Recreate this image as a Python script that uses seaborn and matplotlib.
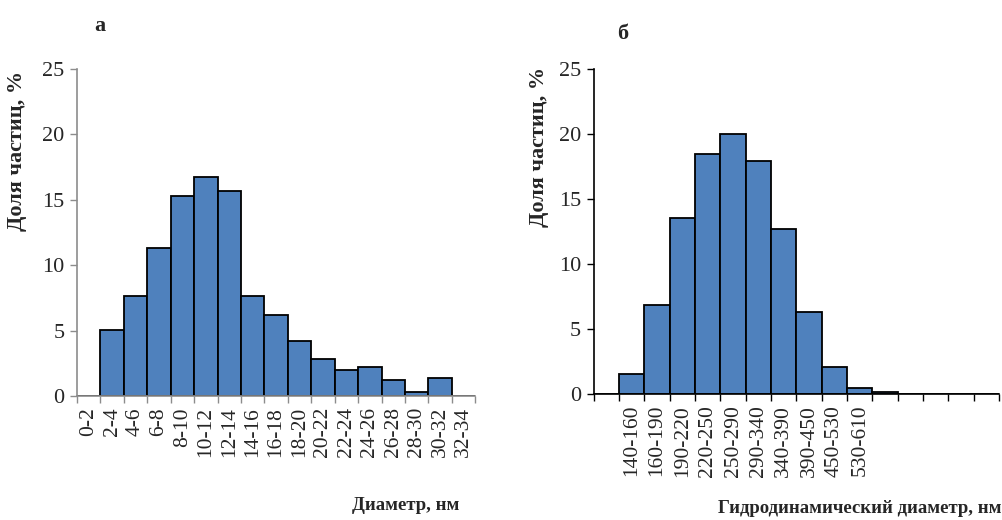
import numpy as np
import pandas as pd
import seaborn as sns
import matplotlib.pyplot as plt

# panel a: TEM size distribution
left_bins = ["0-2", "2-4", "4-6", "6-8", "8-10", "10-12", "12-14", "14-16", "16-18",
             "18-20", "20-22", "22-24", "24-26", "26-28", "28-30", "30-32", "32-34"]
left_values = [0, 5.05, 7.65, 11.35, 15.3, 16.75, 15.65, 7.65, 6.2,
               4.2, 2.85, 2.0, 2.25, 1.2, 0.3, 1.4, 0]

# panel b: DLS hydrodynamic size distribution (blank slots are unlabeled bins)
right_bins = ["", "140-160", "160-190", "190-220", "220-250", "250-290", "290-340",
              "340-390", "390-450", "450-530", "530-610", "", "", "", "", ""]
right_values = [0, 1.55, 6.8, 13.5, 18.45, 20.0, 17.95, 12.7, 6.3, 2.05, 0.45,
                0.12, 0, 0, 0, 0]

y_ticks = [0, 5, 10, 15, 20, 25]
bar_color = "#4F81BD"

sns.set_theme(style="white")
plt.rcParams["font.family"] = ["Liberation Serif", "DejaVu Serif"]

fig = plt.figure(figsize=(10.03, 5.2), dpi=100)
ax1 = fig.add_axes([0.0768, 0.2385, 0.397, 0.6288])
ax2 = fig.add_axes([0.592, 0.243, 0.404, 0.624])


def draw_panel(ax, labels, values, spine_color):
    df = pd.DataFrame({"pos": np.arange(len(values)), "val": values})
    sns.barplot(data=df, x="pos", y="val", color=bar_color, width=1.0,
                edgecolor="black", linewidth=1.3, saturation=1, ax=ax)
    n = len(values)
    ax.set_xlim(-0.5, n - 0.5)
    ax.set_ylim(0, 25)
    ax.set_yticks(y_ticks)
    ax.set_yticklabels([str(t) for t in y_ticks], fontsize=16)
    ax.set_xticks(np.arange(n))
    ax.set_xticklabels(labels, rotation=90, fontsize=15.5, va="top", ha="center")
    ax.set_xticks(np.arange(n + 1) - 0.5, minor=True)
    ax.tick_params(axis="x", which="major", length=0, pad=8)
    ax.tick_params(axis="x", which="minor", length=5, width=1, color=spine_color,
                   direction="out", bottom=True)
    ax.tick_params(axis="y", length=5, width=1, color=spine_color, direction="out",
                   left=True, pad=4)
    for s in ["top", "right"]:
        ax.spines[s].set_visible(False)
    for s in ["left", "bottom"]:
        ax.spines[s].set_color(spine_color)
        ax.spines[s].set_linewidth(1.2)
    ax.set_xlabel("")
    ax.set_ylabel("Доля частиц, %", fontsize=16, fontweight="bold")


draw_panel(ax1, left_bins, left_values, "#8c8c8c")
draw_panel(ax2, right_bins, right_values, "black")

ax1.yaxis.set_label_coords(-0.125, 0.75)
ax2.yaxis.set_label_coords(-0.11, 0.76)

fig.text(0.1, 0.95, "а", fontsize=16, fontweight="bold", ha="center", va="center")
fig.text(0.621, 0.935, "б", fontsize=16, fontweight="bold", ha="center", va="center")
fig.text(0.404, 0.028, "Диаметр, нм", fontsize=13.5, fontweight="bold", ha="center", va="center")
fig.text(0.999, 0.022, "Гидродинамический диаметр, нм", fontsize=13.5, fontweight="bold",
         ha="right", va="center")

fig.savefig("out.png", dpi=100)
